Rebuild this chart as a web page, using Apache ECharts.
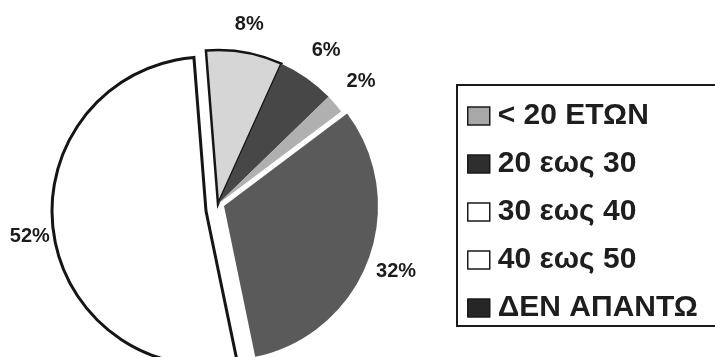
<!DOCTYPE html>
<html>
<head>
<meta charset="utf-8">
<script src="https://cdn.jsdelivr.net/npm/echarts@6/dist/echarts.min.js"></script>
<style>
  html, body { margin: 0; padding: 0; background: #ffffff; }
  #chart { width: 715px; height: 357px; }
</style>
</head>
<body>
<div id="chart"></div>
<script>
// Age groups and their share of answers (percent)
const categories = ['< 20 ΕΤΩΝ', '20 εως 30', '30 εως 40', '40 εως 50', 'ΔΕΝ ΑΠΑΝΤΩ'];
const shares = [8, 6, 2, 32, 52];

// Slice fills and legend swatch fills
const sliceColors = ['#d6d6d6', '#474747', '#b0b0b0', '#5a5a5a', '#ffffff'];
const legendColors = ['#a8a8a8', '#2e2e2e', '#ffffff', '#ffffff', '#262626'];

// Slices that are pulled out of the pie together, and where each piece sits
const pieces = [
  { members: [0, 1, 2], center: [218, 204] },
  { members: [3], center: [224, 206] },
  { members: [4], center: [206, 211] }
];

// Outline for the slices drawn with a black edge
const outlined = { 0: 2.5, 4: 3 };
// Distance of each percentage label beyond the rim
const labelReach = [28, 34, 34, 30, 24];

const RADIUS = 154;
const START = 94.5;

const chart = echarts.init(document.getElementById('chart'), null, { renderer: 'canvas' });

const series = pieces.map(piece => ({
  type: 'pie',
  center: piece.center,
  radius: [0, RADIUS],
  startAngle: START,
  clockwise: true,
  silent: true,
  avoidLabelOverlap: false,
  animation: false,
  emphasis: { disabled: true },
  labelLayout: { align: 'center', verticalAlign: 'middle' },
  data: categories.map((name, i) => {
    const shown = piece.members.indexOf(i) >= 0;
    return {
      name: name,
      value: shares[i],
      itemStyle: shown ? {
        color: sliceColors[i],
        borderColor: '#151515',
        borderWidth: outlined[i] || 0,
        borderJoin: 'miter'
      } : { color: 'rgba(0,0,0,0)', borderWidth: 0 },
      label: shown ? {
        show: true,
        position: 'outside',
        formatter: shares[i] + '%',
        distanceToLabelLine: 0,
        fontFamily: 'Liberation Sans, Arial, sans-serif',
        fontWeight: 'bold',
        fontSize: 20,
        color: '#1c1c1c'
      } : { show: false },
      labelLine: { show: false, length: labelReach[i], length2: 0 }
    };
  })
}));

chart.setOption({
  backgroundColor: '#ffffff',
  animation: false,
  legend: {
    orient: 'vertical',
    left: 457,
    top: 85,
    padding: [16, 120, 3, 10],
    itemWidth: 22,
    itemHeight: 18,
    itemGap: 18,
    icon: 'rect',
    selectedMode: false,
    borderColor: '#1a1a1a',
    borderWidth: 2,
    backgroundColor: '#ffffff',
    textStyle: {
      fontFamily: 'Liberation Sans, Arial, sans-serif',
      fontWeight: 'bold',
      fontSize: 30,
      lineHeight: 30,
      color: '#1e1e1e',
      padding: [0, 0, 0, 3]
    },
    data: categories.map((name, i) => ({
      name: name,
      itemStyle: { color: legendColors[i], borderColor: '#1a1a1a', borderWidth: 1.5 }
    }))
  },
  series: series
});
</script>
</body>
</html>
